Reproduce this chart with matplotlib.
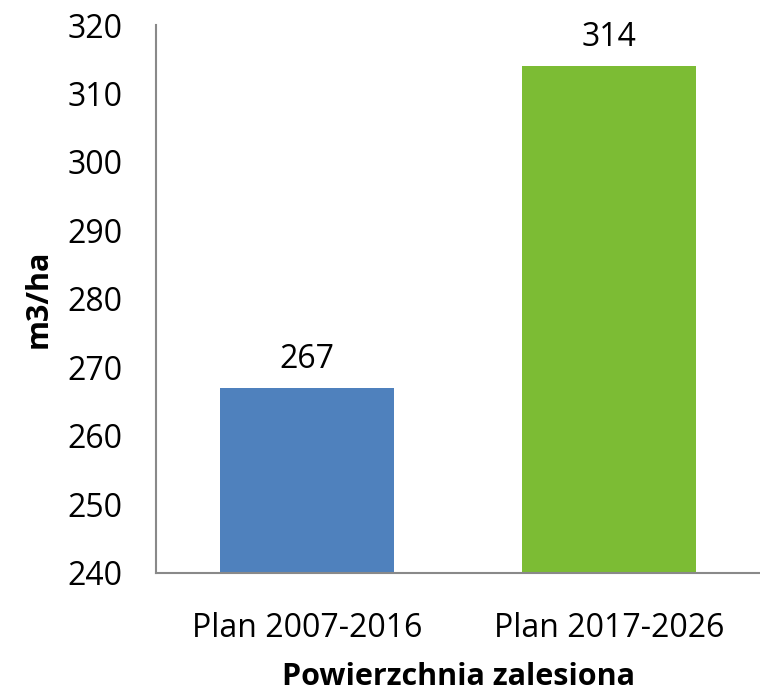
import numpy as np
import matplotlib.pyplot as plt

categories = ['Plan 2007-2016', 'Plan 2017-2026']
values = [267, 314]
colors = ['#4F81BD', '#7CBC34']

plt.rcParams['font.family'] = ['Open Sans', 'DejaVu Sans']

fig = plt.figure(figsize=(7.6, 6.91), dpi=100)
ax = fig.add_axes([156 / 760, 1 - 573 / 691, 604 / 760, (573 - 25) / 691])

x = np.arange(len(categories))
bars = ax.bar(x, values, width=0.577, color=colors, bottom=0)
ax.set_xlim(-0.5, 1.5)
ax.set_ylim(240, 320)
ax.set_yticks(np.arange(240, 321, 10))
ax.set_xticks(x)
ax.set_xticklabels(categories)

for b, v in zip(bars, values):
    ax.annotate(str(v), (b.get_x() + b.get_width() / 2, v), xytext=(0, 9),
                textcoords='offset points', ha='center', va='bottom', fontsize=23)

for s in ['top', 'right']:
    ax.spines[s].set_visible(False)
for s in ['left', 'bottom']:
    ax.spines[s].set_color('#898989')
    ax.spines[s].set_linewidth(1.5)

ax.tick_params(axis='both', length=0, labelsize=23)
ax.tick_params(axis='y', pad=24)
ax.tick_params(axis='x', pad=28)

ax.set_ylabel('m3/ha', fontsize=22, fontweight='bold', labelpad=10)
ax.set_xlabel('Powierzchnia zalesiona', fontsize=22, fontweight='bold', labelpad=12)

fig.savefig('out.png', dpi=100)
